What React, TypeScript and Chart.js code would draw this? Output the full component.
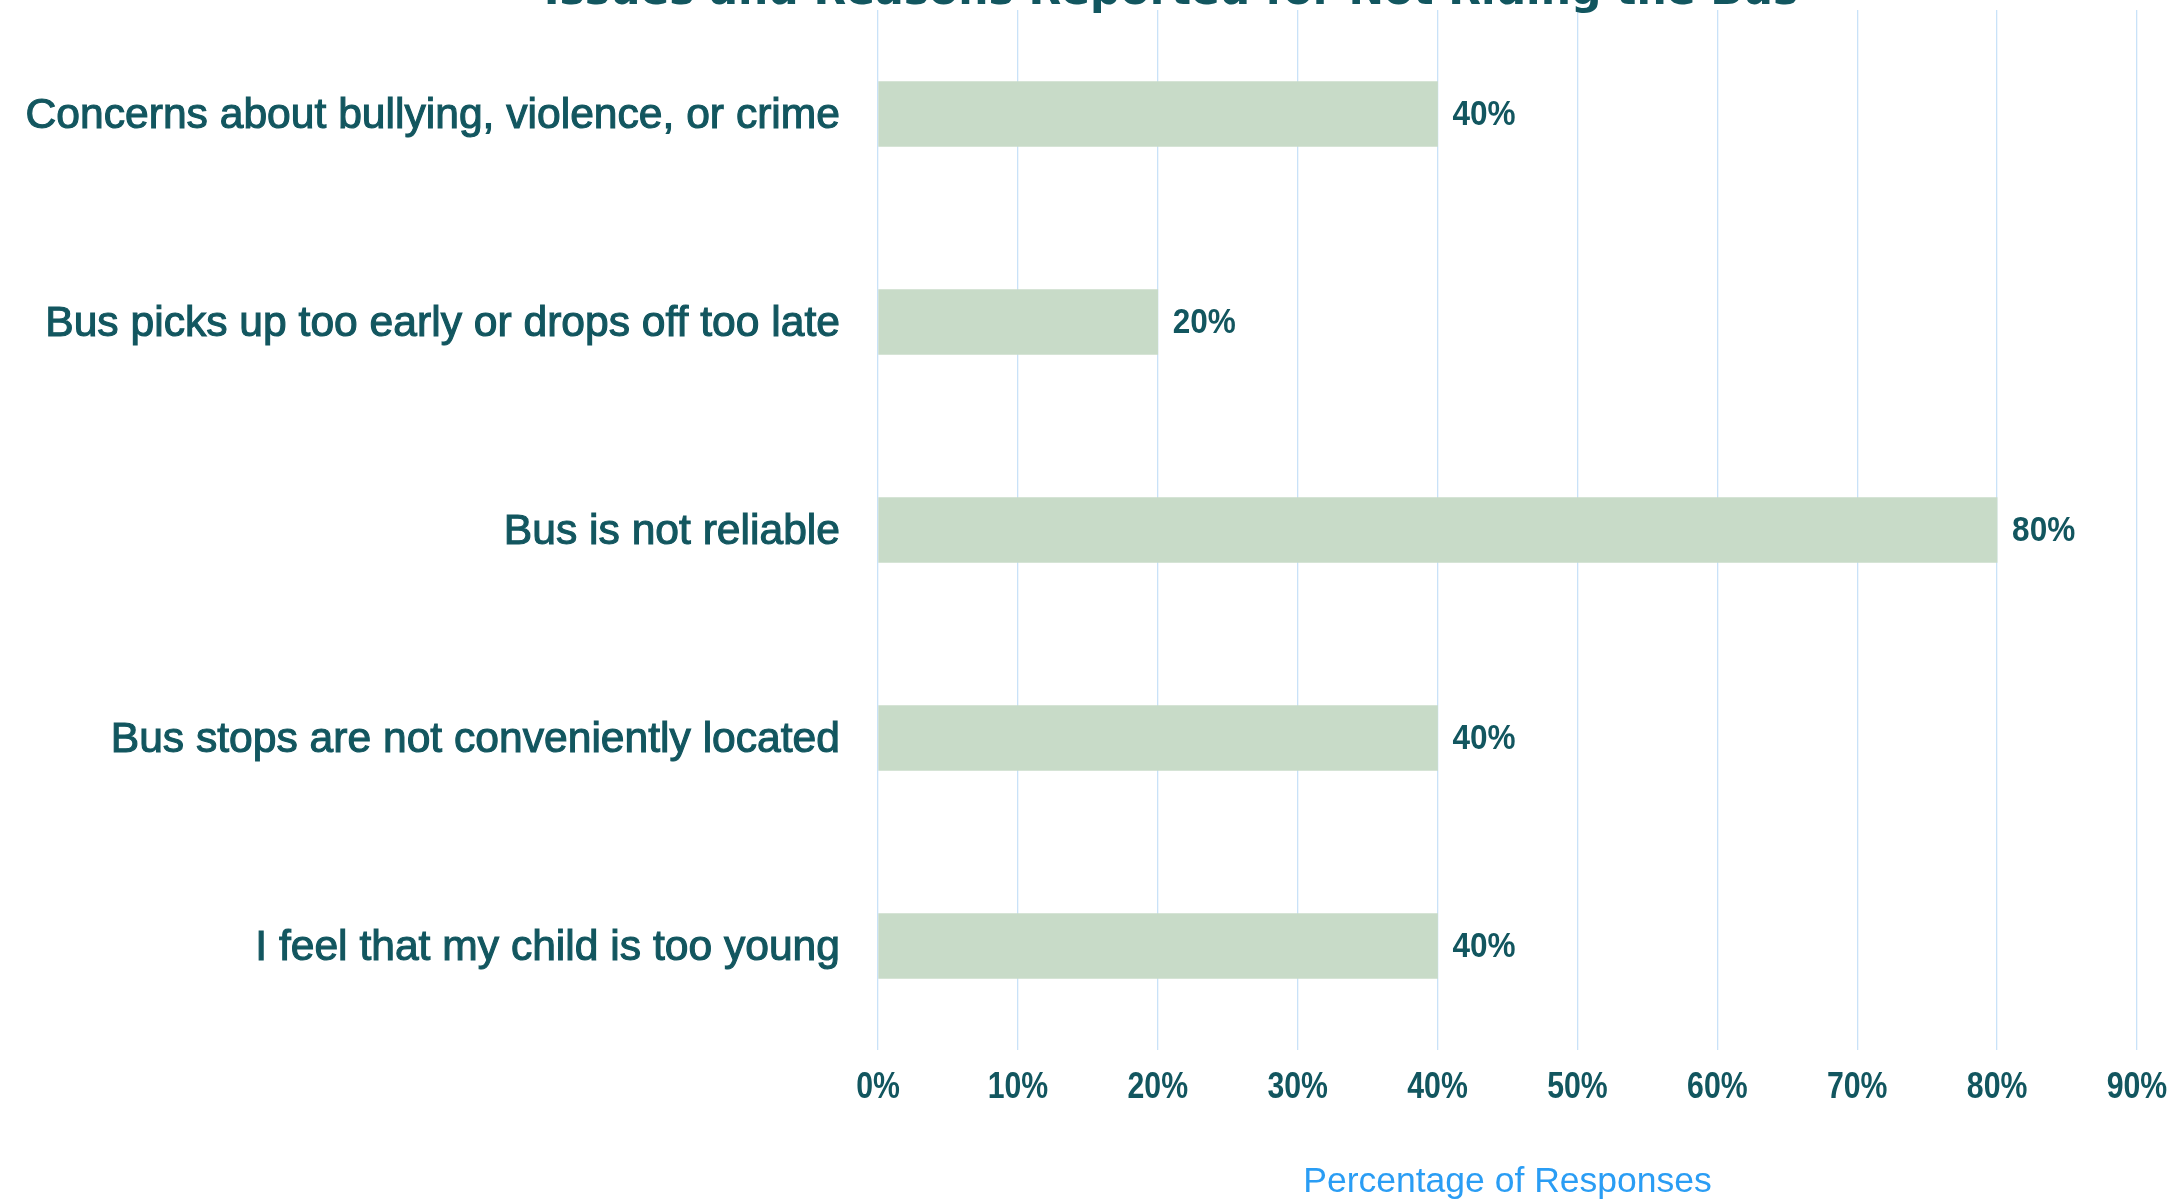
import React, { useEffect, useRef } from 'react';
import { Chart, registerables } from 'chart.js';

Chart.register(...registerables);

const categories = [
  'Concerns about bullying, violence, or crime',
  'Bus picks up too early or drops off too late',
  'Bus is not reliable',
  'Bus stops are not conveniently located',
  'I feel that my child is too young',
];
const percentages = [40, 20, 80, 40, 40];
const xTickValues = [0, 10, 20, 30, 40, 50, 60, 70, 80, 90];
const titleText = 'Issues and Reasons Reported for Not Riding the Bus';
const xAxisTitle = 'Percentage of Responses';

const TEAL = '#12565f';
const BAR = '#c8dbc8';
const GRID = '#c9e2f8';
const BLUE = '#2a9df4';
const SANS = "'Liberation Sans', Arial, sans-serif";
const TITLE_FONT = "'DejaVu Sans', sans-serif";

const titlePlugin = {
  id: 'cutTitle',
  afterDraw(chart: any) {
    const ctx = chart.ctx;
    ctx.save();
    ctx.font = `bold 42.5px ${TITLE_FONT}`;
    ctx.fillStyle = TEAL;
    ctx.textAlign = 'center';
    ctx.textBaseline = 'alphabetic';
    ctx.fillText(titleText, 1171, 4, 1258);
    ctx.restore();
  },
};

const valueLabels = {
  id: 'valueLabels',
  afterDatasetsDraw(chart: any) {
    const ctx = chart.ctx;
    const meta = chart.getDatasetMeta(0);
    ctx.save();
    ctx.font = `bold 35px ${SANS}`;
    ctx.fillStyle = TEAL;
    ctx.textAlign = 'left';
    ctx.textBaseline = 'middle';
    meta.data.forEach((el: any, i: number) => {
      const t = `${percentages[i]}%`;
      const w = ctx.measureText(t).width;
      ctx.fillText(t, el.x + 15, el.y + 1, w * 0.9);
    });
    ctx.restore();
  },
};

// draw the axis' tick labels condensed horizontally (narrow bold look)
function condenseLabels(axis: any, factor: number) {
  if (axis.__condensed) return;
  axis.__condensed = true;
  const orig = axis.drawLabels;
  axis.drawLabels = function (area: any) {
    const ctx = this.ctx;
    const origFill = ctx.fillText;
    ctx.fillText = function (t: string, x: number, y: number) {
      const w = this.measureText(t).width;
      return origFill.call(this, t, x, y, w * factor);
    };
    try {
      orig.call(this, area);
    } finally {
      ctx.fillText = origFill;
    }
  };
}

export default function App() {
  const ref = useRef<HTMLCanvasElement | null>(null);
  useEffect(() => {
    if (!ref.current) return;
    const chart = new Chart(ref.current, {
      type: 'bar',
      data: {
        labels: categories,
        datasets: [
          {
            data: percentages,
            backgroundColor: BAR,
            borderWidth: 0,
            barThickness: 65,
          },
        ],
      },
      options: {
        indexAxis: 'y',
        animation: false,
        responsive: false,
        maintainAspectRatio: false,
        layout: { padding: { top: 10, right: 38, left: 0, bottom: 0 } },
        plugins: {
          legend: { display: false },
          title: { display: false },
          tooltip: { enabled: false },
        },
        scales: {
          x: {
            type: 'linear',
            position: 'bottom',
            min: xTickValues[0],
            max: xTickValues[xTickValues.length - 1],
            afterBuildTicks: (axis: any) => {
              axis.ticks = xTickValues.map((v) => ({ value: v }));
            },
            afterFit: (axis: any) => {
              axis.height = 150;
              axis.paddingLeft = 0;
              axis.paddingRight = 0;
              condenseLabels(axis, 0.84);
            },
            grid: { color: GRID, lineWidth: 1.3, drawTicks: false },
            border: { display: false },
            ticks: {
              padding: 16,
              color: TEAL,
              font: { family: SANS, size: 36, weight: 'bold' },
              callback: (v: any) => `${v}%`,
              maxRotation: 0,
            },
            title: {
              display: true,
              text: xAxisTitle,
              color: BLUE,
              font: { family: SANS, size: 35.5, lineHeight: 1.0 },
              padding: { top: 0, bottom: 0 },
            },
          },
          y: {
            afterFit: (axis: any) => {
              axis.width = 878;
              axis.paddingTop = 0;
              axis.paddingBottom = 0;
            },
            grid: { display: false, drawTicks: false },
            border: { display: false },
            ticks: {
              padding: 38,
              labelOffset: 2,
              color: TEAL,
              autoSkip: false,
              textStrokeColor: TEAL,
              textStrokeWidth: 1.1,
              font: { family: SANS, size: 42.6 },
            },
          },
        },
      },
      plugins: [valueLabels, titlePlugin],
    });
    return () => chart.destroy();
  }, []);

  return (
    <div style={{ position: 'absolute', left: 0, top: 0, width: 2175, height: 1200, background: '#fff' }}>
      <canvas ref={ref} width={2175} height={1200} style={{ width: 2175, height: 1200, display: 'block' }} />
    </div>
  );
}
